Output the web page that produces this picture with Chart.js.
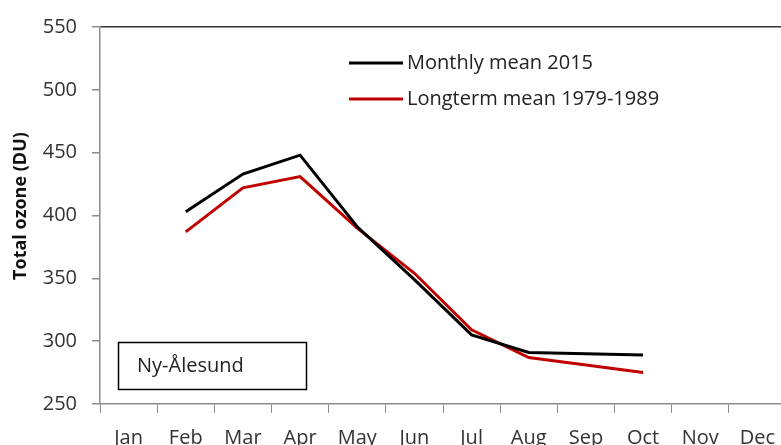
<!DOCTYPE html>
<html>
<head>
<meta charset="utf-8">
<script src="https://cdn.jsdelivr.net/npm/chart.js@4/dist/chart.umd.min.js"></script>
<style>
  html, body { margin: 0; padding: 0; background: #fff; overflow: hidden; }
  #wrap { width: 800px; height: 460px; }
</style>
</head>
<body>
<div id="wrap"><canvas id="ozoneChart" width="800" height="460"></canvas></div>
<script>
// data
const months = ["Jan", "Feb", "Mar", "Apr", "May", "Jun", "Jul", "Aug", "Sep", "Oct", "Nov", "Dec"];
const mean2015 = [null, 403, 433, 448, 391, 349, 305, 291, 290, 289, null, null];
const longterm = [null, 387, 422, 431, 390, 354, 309, 287, 281, 275, null, null];
const yTicks = [250, 300, 350, 400, 450, 500, 550];
const stationName = "Ny-Ålesund";
const yTitle = "Total ozone (DU)";

const FONT = "'Open Sans', Lato, sans-serif";

// legend, station box and axis title drawn by hand
const decorations = {
    id: "decorations",
    afterDraw(chart) {
        const c = chart.ctx;
        c.save();

        // legend
        c.font = "20px " + FONT;
        c.textBaseline = "middle";
        c.lineWidth = 3;
        chart.data.datasets.forEach((ds, i) => {
            const y = 63 + i * 36;
            c.strokeStyle = ds.borderColor;
            c.beginPath();
            c.moveTo(349, y);
            c.lineTo(403, y);
            c.stroke();
            c.fillStyle = "#222";
            c.fillText(ds.label, 407, y);
        });

        // station box
        c.lineWidth = 1.5;
        c.strokeStyle = "#000";
        c.strokeRect(118.5, 342.5, 188, 47);
        c.fillStyle = "#222";
        c.fillText(stationName, 137, 366);

        // y axis title
        c.translate(21, 206);
        c.rotate(-Math.PI / 2);
        c.font = "bold 18px " + FONT;
        c.textAlign = "center";
        c.fillStyle = "#111";
        c.fillText(yTitle, 0, 0);
        c.restore();
    }
};

const ctx = document.getElementById("ozoneChart");
new Chart(ctx, {
    type: "line",
    data: {
        labels: months,
        datasets: [
            {
                label: "Monthly mean 2015",
                data: mean2015,
                borderColor: "#000000",
                borderWidth: 3,
                pointRadius: 0,
                tension: 0,
                fill: false,
            },
            {
                label: "Longterm mean 1979-1989",
                data: longterm,
                borderColor: "#c00000",
                borderWidth: 3,
                pointRadius: 0,
                tension: 0,
                fill: false,
            },
        ],
    },
    options: {
        responsive: false,
        animation: false,
        layout: { padding: { top: 24, right: 14, left: 0, bottom: 0 } },
        plugins: {
            legend: { display: false },
            tooltip: { enabled: false },
        },
        scales: {
            x: {
                offset: true,
                grid: {
                    offset: true,
                    drawOnChartArea: false,
                    tickLength: 9,
                    color: "#8c8c8c",
                },
                border: { color: "#8c8c8c", width: 1.5 },
                ticks: {
                    font: { family: FONT, size: 20 },
                    color: "#333",
                    padding: 13,
                    maxRotation: 0,
                    autoSkip: false,
                },
                afterFit(scale) { scale.height = 56; },
            },
            y: {
                min: 250,
                max: 550,
                afterBuildTicks(scale) {
                    scale.ticks = yTicks.map((v) => ({ value: v }));
                },
                grid: {
                    color: (c) => (c.tick && c.tick.value === 550 ? "#333" : "transparent"),
                    tickColor: "#8c8c8c",
                    tickLength: 8,
                    lineWidth: 1.5,
                },
                border: { color: "#8c8c8c", width: 1.5 },
                ticks: {
                    font: { family: FONT, size: 20 },
                    color: "#333",
                    padding: 15,
                },
                afterFit(scale) { scale.width = 100; },
            },
        },
    },
    plugins: [decorations],
});
</script>
</body>
</html>
